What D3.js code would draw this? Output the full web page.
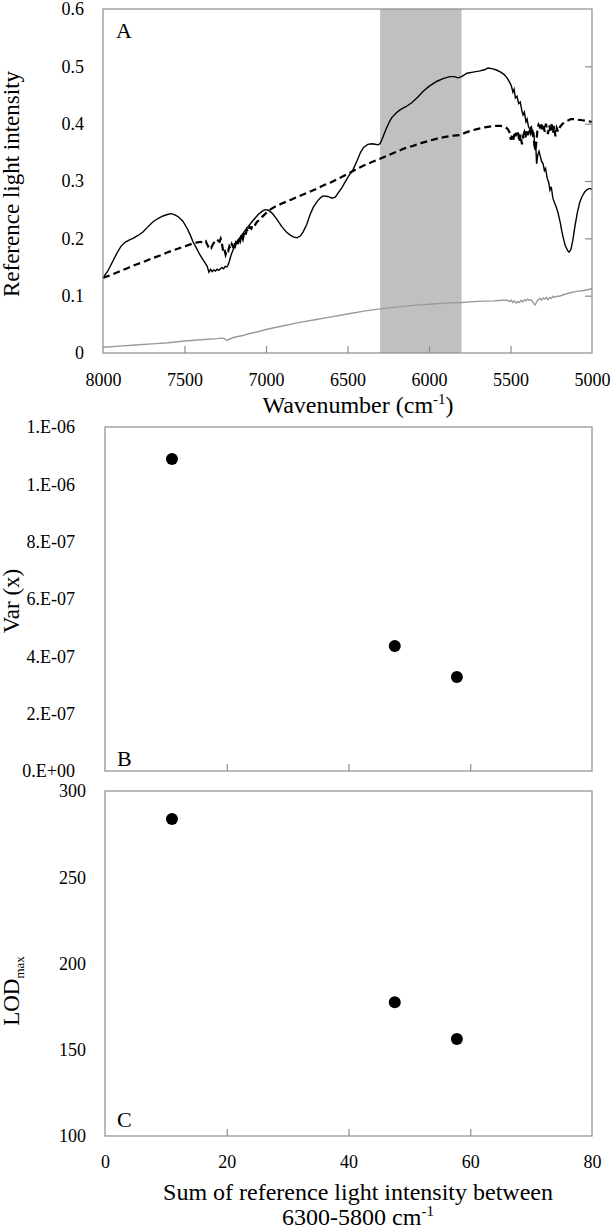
<!DOCTYPE html>
<html>
<head>
<meta charset="utf-8">
<script src="https://cdn.jsdelivr.net/npm/d3@7"></script>
<style>
  body { margin: 0; background: #fff; }
  svg { display: block; }
  text { font-family: "Liberation Serif", "Times New Roman", serif; fill: #000; }
</style>
</head>
<body>
<svg id="chart" width="614" height="1231"></svg>
<script>
// ---------- DATA ----------
// Panel A: wavenumber (cm-1), intensity
const solidSpectrum = [
  [8000,0.131],[7970,0.143],[7940,0.160],[7915,0.174],[7890,0.186],[7865,0.193],[7840,0.197],[7816,0.200],
  [7785,0.205],[7755,0.211],[7725,0.220],[7693,0.229],[7660,0.235],[7632,0.239],[7600,0.242],[7580,0.243],
  [7560,0.241],[7540,0.238],[7510,0.230],[7485,0.218],[7465,0.206],[7448,0.194],[7425,0.182],[7405,0.171],
  [7380,0.160],[7362,0.152],[7350,0.141],[7340,0.146],[7330,0.142],[7320,0.145],[7310,0.143],[7300,0.146],
  [7290,0.144],[7280,0.147],[7270,0.149],[7260,0.147],[7250,0.151],[7240,0.150],[7233,0.153],[7225,0.160],
  [7215,0.170],[7209,0.175],[7190,0.187],[7172,0.197],[7150,0.205],[7130,0.213],[7111,0.220],[7080,0.231],
  [7049,0.241],[7025,0.247],[7006,0.250],[6985,0.249],[6963,0.244],[6935,0.234],[6902,0.220],[6875,0.211],
  [6853,0.206],[6830,0.202],[6810,0.201],[6790,0.204],[6773,0.211],[6750,0.224],[6730,0.241],[6710,0.254],
  [6687,0.264],[6665,0.271],[6650,0.274],[6620,0.273],[6595,0.270],[6575,0.272],[6558,0.279],[6535,0.288],
  [6515,0.298],[6490,0.310],[6466,0.320],[6442,0.335],[6420,0.350],[6400,0.359],[6375,0.364],[6350,0.365],
  [6330,0.364],[6313,0.363],[6300,0.365],[6282,0.377],[6260,0.393],[6240,0.405],[6227,0.411],[6200,0.419],
  [6178,0.424],[6140,0.430],[6104,0.437],[6070,0.446],[6037,0.456],[6000,0.465],[5951,0.474],[5910,0.479],
  [5871,0.482],[5845,0.482],[5822,0.480],[5800,0.482],[5767,0.488],[5730,0.490],[5687,0.492],[5660,0.494],
  [5638,0.497],[5615,0.496],[5590,0.494],[5560,0.490],[5540,0.486],[5521,0.480],[5505,0.472],[5495,0.466],
  [5485,0.455],[5478,0.460],[5470,0.445],[5460,0.448],[5450,0.435],[5440,0.438],[5430,0.422],[5423,0.415],
  [5415,0.420],[5405,0.403],[5398,0.408],[5390,0.395],[5380,0.390],[5372,0.396],[5365,0.380],[5357,0.385],
  [5350,0.354],[5345,0.362],[5340,0.330],[5333,0.345],[5325,0.352],[5319,0.345],[5310,0.335],[5300,0.330],
  [5292,0.318],[5285,0.322],[5275,0.305],[5266,0.298],[5258,0.284],[5250,0.290],[5240,0.270],[5230,0.262],
  [5220,0.255],[5208,0.244],[5195,0.228],[5185,0.212],[5178,0.203],[5165,0.188],[5150,0.179],[5141,0.176],
  [5130,0.180],[5118,0.196],[5104,0.222],[5090,0.245],[5075,0.263],[5061,0.273],[5045,0.281],[5030,0.285],
  [5015,0.287],[5005,0.286],[5000,0.286]
];
const dashedSpectrum = [
  [8000,0.131],[7950,0.136],[7900,0.142],[7850,0.148],[7800,0.154],[7750,0.159],[7700,0.165],[7650,0.170],
  [7600,0.176],[7550,0.181],[7500,0.186],[7450,0.191],[7420,0.193],[7400,0.194],[7385,0.192],[7370,0.195],
  [7355,0.186],[7345,0.189],[7335,0.184],[7325,0.190],[7315,0.194],[7305,0.192],[7295,0.196],[7285,0.194],
  [7278,0.199],[7270,0.190],[7262,0.176],[7255,0.180],[7248,0.172],[7240,0.180],[7232,0.178],[7225,0.186],
  [7218,0.182],[7210,0.190],[7202,0.185],[7195,0.194],[7188,0.188],[7180,0.198],[7172,0.190],[7165,0.202],
  [7158,0.196],[7150,0.206],[7142,0.199],[7134,0.210],[7126,0.205],[7118,0.215],[7110,0.211],[7100,0.220],
  [7090,0.217],[7080,0.224],[7070,0.222],[7055,0.229],[7040,0.232],[7025,0.237],[7000,0.244],[6970,0.251],
  [6940,0.256],[6900,0.261],[6850,0.267],[6800,0.273],[6750,0.279],[6700,0.285],[6650,0.292],[6600,0.298],
  [6550,0.305],[6500,0.312],[6450,0.320],[6400,0.327],[6350,0.333],[6300,0.339],[6250,0.345],[6200,0.351],
  [6150,0.357],[6100,0.361],[6050,0.366],[6000,0.370],[5950,0.374],[5900,0.377],[5850,0.379],[5810,0.380],
  [5780,0.384],[5750,0.387],[5700,0.391],[5650,0.394],[5600,0.396],[5560,0.396],[5530,0.394],[5515,0.390],
  [5505,0.384],[5498,0.372],[5490,0.380],[5482,0.372],[5475,0.386],[5468,0.378],[5460,0.388],[5452,0.382],
  [5445,0.368],[5438,0.381],[5430,0.364],[5422,0.379],[5415,0.385],[5408,0.376],[5400,0.389],[5392,0.380],
  [5385,0.392],[5376,0.384],[5368,0.393],[5360,0.378],[5352,0.360],[5346,0.354],[5340,0.372],[5334,0.392],
  [5328,0.398],[5320,0.394],[5312,0.402],[5305,0.390],[5298,0.398],[5290,0.386],[5283,0.400],[5277,0.392],
  [5270,0.382],[5262,0.397],[5255,0.388],[5248,0.399],[5240,0.383],[5232,0.396],[5224,0.378],[5216,0.392],
  [5208,0.386],[5195,0.395],[5180,0.400],[5165,0.403],[5150,0.405],[5130,0.408],[5110,0.408],[5090,0.407],
  [5060,0.406],[5030,0.405],[5000,0.403]
];
const graySpectrum = [
  [8000,0.010],[7900,0.012],[7800,0.014],[7700,0.016],[7600,0.018],[7500,0.021],[7400,0.023],[7300,0.025],
  [7270,0.026],[7255,0.025],[7240,0.022],[7225,0.024],[7200,0.027],[7150,0.030],[7100,0.034],[7050,0.037],
  [7000,0.041],[6900,0.047],[6800,0.053],[6700,0.058],[6600,0.063],[6500,0.068],[6400,0.073],[6300,0.077],
  [6200,0.080],[6100,0.083],[6000,0.085],[5900,0.087],[5800,0.088],[5700,0.090],[5600,0.091],[5550,0.092],
  [5520,0.092],[5505,0.090],[5495,0.092],[5485,0.088],[5475,0.091],[5465,0.087],[5455,0.090],[5445,0.088],
  [5435,0.092],[5425,0.089],[5415,0.093],[5405,0.091],[5395,0.094],[5385,0.092],[5375,0.093],[5365,0.090],
  [5355,0.085],[5348,0.084],[5340,0.089],[5330,0.093],[5320,0.095],[5310,0.092],[5300,0.096],[5290,0.094],
  [5280,0.097],[5270,0.093],[5260,0.097],[5250,0.095],[5240,0.099],[5230,0.097],[5215,0.099],[5200,0.099],
  [5170,0.102],[5135,0.105],[5100,0.107],[5050,0.109],[5000,0.112]
];
const bandRange = [6300, 5800];
const xTicksA = [8000, 7500, 7000, 6500, 6000, 5500, 5000];
const yTicksA = [0, 0.1, 0.2, 0.3, 0.4, 0.5, 0.6];
const yTickLabelsA = ["0", "0.1", "0.2", "0.3", "0.4", "0.5", "0.6"];

// Panels B and C
const sumIntensity = [11.0, 47.6, 57.8];
const varX = [1.088e-6, 0.436e-6, 0.328e-6];
const lodMax = [283.8, 177.6, 156.2];
const xTicksBC = [0, 20, 40, 60, 80];
const yTicksB = [0, 2e-7, 4e-7, 6e-7, 8e-7, 1.0e-6, 1.2e-6];
const yTickLabelsB = ["0.E+00", "2.E-07", "4.E-07", "6.E-07", "8.E-07", "1.E-06", "1.E-06"];
const yTicksC = [100, 150, 200, 250, 300];

// ---------- DRAWING ----------
const svg = d3.select("#chart");
const frameColor = "#8c8c8c";
const tickFont = 18, titleFont = 24;

// Panel A
const xA = d3.scaleLinear().domain([8000, 5000]).range([103, 592]);
const yA = d3.scaleLinear().domain([0, 0.6]).range([353, 9]);
const gA = svg.append("g");

gA.append("rect")
  .attr("x", xA(bandRange[0])).attr("y", yA(0.6))
  .attr("width", xA(bandRange[1]) - xA(bandRange[0]))
  .attr("height", yA(0) - yA(0.6))
  .attr("fill", "#c0c0c0");

function frame(g, x, y) {
  const [x0, x1] = x.range(); const [y0, y1] = y.range();
  g.append("rect").attr("x", Math.min(x0, x1)).attr("y", Math.min(y0, y1))
    .attr("width", Math.abs(x1 - x0)).attr("height", Math.abs(y1 - y0))
    .attr("fill", "none").attr("stroke", frameColor).attr("stroke-width", 1.2);
}
function innerBottomTicks(g, x, yPos, ticks) {
  const ax = d3.axisTop(x).tickValues(ticks).tickSize(7).tickFormat("");
  const a = g.append("g").attr("transform", `translate(0,${yPos})`).call(ax);
  a.select(".domain").remove();
  a.selectAll("line").attr("stroke", frameColor).attr("stroke-width", 1.2);
}
function innerRightTicks(g, y, xPos, ticks) {
  const ax = d3.axisLeft(y).tickValues(ticks).tickSize(7).tickFormat("");
  const a = g.append("g").attr("transform", `translate(${xPos},0)`).call(ax);
  a.select(".domain").remove();
  a.selectAll("line").attr("stroke", frameColor).attr("stroke-width", 1.2);
}
function leftLabels(g, y, xPos, ticks, labels) {
  const ax = d3.axisLeft(y).tickValues(ticks).tickSize(0).tickPadding(0)
    .tickFormat((d, i) => labels[i]);
  const a = g.append("g").attr("transform", `translate(${xPos},0)`).call(ax);
  a.select(".domain").remove();
  a.selectAll("text").attr("font-size", tickFont)
    .style("font-family", "'Liberation Serif', serif").attr("fill", "#000");
}
function bottomLabels(g, x, yPos, ticks, labels) {
  const ax = d3.axisBottom(x).tickValues(ticks).tickSize(0).tickPadding(0)
    .tickFormat((d, i) => labels[i]);
  const a = g.append("g").attr("transform", `translate(0,${yPos})`).call(ax);
  a.select(".domain").remove();
  a.selectAll("text").attr("font-size", tickFont).attr("dy", null).attr("y", 0)
    .attr("dominant-baseline", "alphabetic")
    .style("font-family", "'Liberation Serif', serif").attr("fill", "#000");
}

const lineA = d3.line().x(d => xA(d[0])).y(d => yA(d[1]));
gA.append("path").datum(graySpectrum).attr("d", lineA)
  .attr("fill", "none").attr("stroke", "#9a9a9a").attr("stroke-width", 1.4);
gA.append("path").datum(dashedSpectrum).attr("d", lineA)
  .attr("fill", "none").attr("stroke", "#000").attr("stroke-width", 2.2)
  .attr("stroke-dasharray", "7,4");
gA.append("path").datum(solidSpectrum).attr("d", lineA)
  .attr("fill", "none").attr("stroke", "#000").attr("stroke-width", 1.4);

frame(gA, xA, yA);
innerBottomTicks(gA, xA, yA(0), xTicksA.slice(1, -1));
innerRightTicks(gA, yA, xA(5000), yTicksA.slice(1, -1));
leftLabels(gA, yA, 84, yTicksA, yTickLabelsA);
bottomLabels(gA, xA, 386, xTicksA, xTicksA.map(String));

gA.append("text").attr("x", 116).attr("y", 38).attr("font-size", 22).text("A");
const tA = gA.append("text").attr("x", 358).attr("y", 413).attr("text-anchor", "middle")
  .attr("font-size", titleFont);
tA.append("tspan").text("Wavenumber (cm");
tA.append("tspan").attr("font-size", 15).attr("dy", -9).text("-1");
tA.append("tspan").attr("dy", 9).text(")");
gA.append("text").attr("transform", "translate(19,184) rotate(-90)")
  .attr("text-anchor", "middle").attr("font-size", 23).text("Reference light intensity");

// Panel B
const xB = d3.scaleLinear().domain([0, 80]).range([105, 592]);
const yB = d3.scaleLinear().domain([0, 1.2e-6]).range([771, 427]);
const gB = svg.append("g");
frame(gB, xB, yB);
innerBottomTicks(gB, xB, yB(0), xTicksBC.slice(1, -1));
leftLabels(gB, yB, 75, yTicksB, yTickLabelsB);
gB.selectAll("circle.pt").data(sumIntensity).enter().append("circle")
  .attr("cx", d => xB(d)).attr("cy", (d, i) => yB(varX[i])).attr("r", 6).attr("fill", "#000");
gB.append("text").attr("x", 117).attr("y", 766).attr("font-size", 22).text("B");
gB.append("text").attr("transform", "translate(19,601) rotate(-90)")
  .attr("text-anchor", "middle").attr("font-size", 23).text("Var (x)");

// Panel C
const xC = d3.scaleLinear().domain([0, 80]).range([105, 592]);
const yC = d3.scaleLinear().domain([100, 300]).range([1136, 791]);
const gC = svg.append("g");
frame(gC, xC, yC);
innerBottomTicks(gC, xC, yC(100), xTicksBC.slice(1, -1));
leftLabels(gC, yC, 86, yTicksC, yTicksC.map(String));
bottomLabels(gC, xC, 1168, xTicksBC, xTicksBC.map(String));
gC.selectAll("circle.pt").data(sumIntensity).enter().append("circle")
  .attr("cx", d => xC(d)).attr("cy", (d, i) => yC(lodMax[i])).attr("r", 6).attr("fill", "#000");
gC.append("text").attr("x", 117).attr("y", 1127).attr("font-size", 22).text("C");
const tC = gC.append("text").attr("transform", "translate(19,991) rotate(-90)")
  .attr("text-anchor", "middle").attr("font-size", 23);
tC.append("tspan").text("LOD");
tC.append("tspan").attr("font-size", 13).attr("dy", 5).text("max");
gC.append("text").attr("x", 358).attr("y", 1200).attr("text-anchor", "middle")
  .attr("font-size", titleFont).text("Sum of reference light intensity between");
const tC2 = gC.append("text").attr("x", 358).attr("y", 1225).attr("text-anchor", "middle")
  .attr("font-size", titleFont);
tC2.append("tspan").text("6300-5800 cm");
tC2.append("tspan").attr("font-size", 15).attr("dy", -9).text("-1");
</script>
</body>
</html>
